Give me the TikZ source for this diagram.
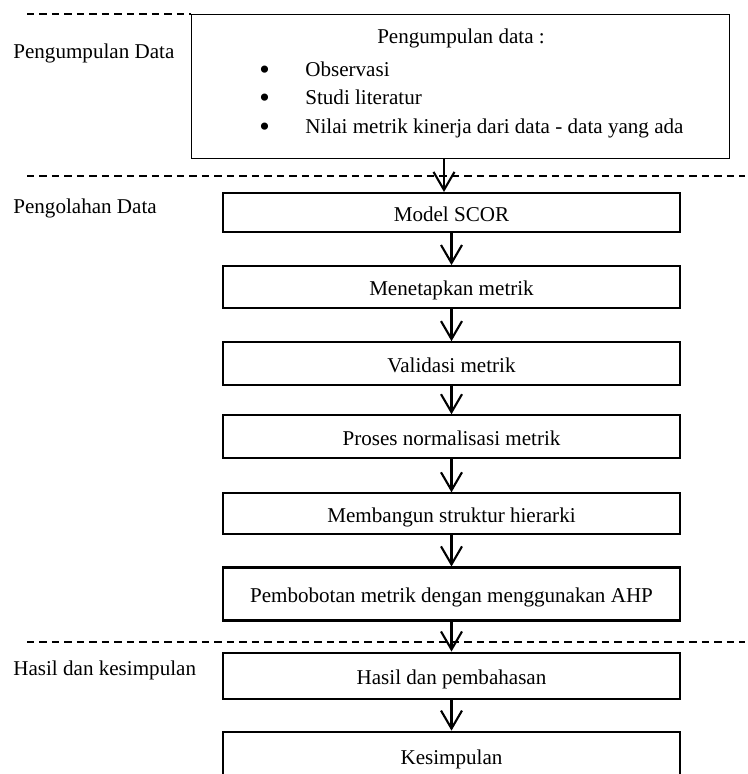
\documentclass[tikz,border=0pt]{standalone}
\usepackage{fontspec}
\setmainfont{Liberation Serif}
\usetikzlibrary{
	arrows.meta,
	positioning
}

\newcommand{\bulletitem}[1]{\makebox[0.92cm][l]{\raisebox{-1.8pt}{\fontsize{17}{17}\selectfont\textbullet}}#1}

\begin{document}
\begin{tikzpicture}[
		x=0.02cm, y=-0.02cm,
		font=\fontsize{12}{14.4}\selectfont,
		box/.style={draw, line width=1.2pt, minimum width=9.14cm, inner sep=0pt, align=center, text height=11pt, text depth=1pt},
		bigbox/.style={draw, line width=0.8pt, minimum width=10.76cm, minimum height=2.88cm, inner sep=0pt},
		phase/.style={anchor=base west, inner sep=0pt},
		item/.style={anchor=base west, inner sep=0pt},
		sep/.style={line width=0.6pt, dash pattern=on 0.15cm off 0.1cm},
		arrow/.style={-{Straight Barb[length=0.36cm, width=0.42cm]}, line width=1.2pt}
		]
		\clip (0,0) rectangle (747,774);
		
		% =========================
		% Phase labels (left column)
		% =========================
		\node[phase] (ph1) at (13,58) {Pengumpulan Data};
		\node[phase] (ph2) at (13,213) {Pengolahan Data};
		\node[phase] (ph3) at (13,675) {Hasil dan kesimpulan};
		
		% =========================
		% Data collection box
		% =========================
		\node[bigbox, anchor=north west] (collect) at (191,14) {};
		\node[anchor=base, inner sep=0pt] (title) at (461,43) {Pengumpulan data :};
		\node[item] (obs) at (259,76) {\bulletitem{Observasi}};
		\node[item] (lit) at (259,104.5) {\bulletitem{Studi literatur}};
		\node[item] (kpi) at (259,133) {\bulletitem{Nilai metrik kinerja dari data - data yang ada}};
		
		% =========================
		% Processing steps
		% =========================
		\node[box, minimum height=0.78cm, anchor=north] (scor) at (451.5,192) {Model SCOR};
		\node[box, minimum height=0.84cm, below=0.64cm of scor] (metrik) {Menetapkan metrik};
		\node[box, minimum height=0.86cm, below=0.64cm of metrik] (valid) {Validasi metrik};
		\node[box, minimum height=0.86cm, below=0.56cm of valid] (norm) {Proses normalisasi metrik};
		\node[box, minimum height=0.82cm, below=0.66cm of norm] (hier) {Membangun struktur hierarki};
		\node[box, minimum height=1.06cm, below=0.62cm of hier] (ahp) {Pembobotan metrik dengan menggunakan AHP};
		
		% =========================
		% Results
		% =========================
		\node[box, minimum height=0.92cm, below=0.6cm of ahp] (hasil) {Hasil dan pembahasan};
		\node[box, minimum height=0.96cm, below=0.62cm of hasil] (simpul) {Kesimpulan};
		
		% =========================
		% Phase separators
		% =========================
		\draw[sep] (27,14) -- (collect.north west);
		\draw[sep] (27,176) -- (745,176);
		\draw[sep] (27,642) -- (745,642);
		
		% =========================
		% Arrows
		% =========================
		\draw[arrow] ([xshift=-0.15cm]scor.north |- collect.south) -- ([xshift=-0.15cm]scor.north);
		\draw[arrow] (scor) -- (metrik);
		\draw[arrow] (metrik) -- (valid);
		\draw[arrow] (valid) -- (norm);
		\draw[arrow] (norm) -- (hier);
		\draw[arrow] (hier) -- (ahp);
		\draw[arrow] (ahp) -- (hasil);
		\draw[arrow] (hasil) -- (simpul);
		
	\end{tikzpicture}
\end{document}
